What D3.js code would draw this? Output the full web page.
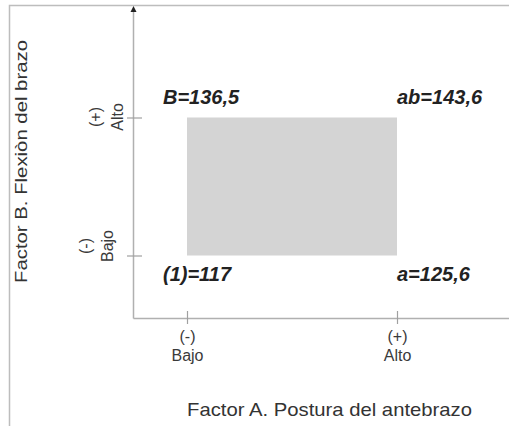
<!DOCTYPE html>
<html>
<head>
    <meta charset="utf-8">
    <script src="https://cdn.jsdelivr.net/npm/d3@7"></script>
    <title>Diseño factorial 2x2</title>
    <style>
        * {
            margin: 0;
            padding: 0;
        }

        body {
            background: #fff;
        }

        svg text {
            font-family: "Liberation Sans", Arial, sans-serif;
        }
    </style>
</head>
<body>
    <div id="chart"></div>
    <script>
        // factor levels (both factors use the same two levels)
        var levels = ["-", "+"];
        var levelNames = ["Bajo", "Alto"];

        // the four treatment combinations
        var cellNames = ["(1)", "a", "B", "ab"];
        var cellA = ["-", "+", "-", "+"];
        var cellB = ["-", "-", "+", "+"];
        var cellValues = [117, 125.6, 136.5, 143.6];

        var titleA = "Factor A. Postura del antebrazo";
        var titleB = "Factor B. Flexiòn del brazo";

        var width = 509, height = 426;

        var svg = d3.select("#chart")
            .append("svg")
            .attr("width", width)
            .attr("height", height);

        // frame around the picture (top and left only)
        svg.append("path")
            .attr("d", "M9.5," + height + "V5.5H" + width)
            .style("fill", "none")
            .style("stroke", "#bdbdbd")
            .style("stroke-width", 1.5);

        var xScale = d3.scalePoint()
            .domain(levels)
            .range([187, 397]);

        var yScale = d3.scalePoint()
            .domain(levels)
            .range([255.5, 117.5]);

        var originX = 133.5, originY = 318.5;

        // square of the design
        svg.append("rect")
            .attr("x", xScale("-"))
            .attr("y", yScale("+"))
            .attr("width", xScale("+") - xScale("-"))
            .attr("height", yScale("-") - yScale("+"))
            .style("fill", "#d4d4d4");

        // axis lines
        svg.append("line")
            .attr("x1", originX).attr("x2", width)
            .attr("y1", originY).attr("y2", originY)
            .style("stroke", "#b0b0b0")
            .style("stroke-width", 1.5);

        svg.append("line")
            .attr("x1", originX).attr("x2", originX)
            .attr("y1", originY).attr("y2", 11)
            .style("stroke", "#b0b0b0")
            .style("stroke-width", 1.5);

        svg.append("path")
            .attr("d", "M" + originX + ",6L" + (originX - 3) + ",12L" + (originX + 3) + ",12Z")
            .style("fill", "#222");

        // x ticks
        var xAxis = svg.append("g")
            .attr("transform", "translate(0,311)")
            .call(d3.axisBottom(xScale).tickSize(13).tickSizeOuter(0));
        xAxis.select(".domain").remove();
        xAxis.selectAll("line").style("stroke", "#a0a0a0").style("stroke-width", 1.2);
        xAxis.selectAll("text").remove();
        xAxis.selectAll(".tick").each(function (d, i) {
            var t = d3.select(this).append("text")
                .attr("text-anchor", "middle")
                .style("font-size", "16px")
                .style("fill", "#3a3a3a");
            t.append("tspan").attr("x", 0).attr("y", 31).text("(" + d + ")");
            t.append("tspan").attr("x", 0).attr("y", 50).text(levelNames[i]);
        });

        // y ticks
        var yAxis = svg.append("g")
            .attr("transform", "translate(142,0)")
            .call(d3.axisLeft(yScale).tickSize(15).tickSizeOuter(0));
        yAxis.select(".domain").remove();
        yAxis.selectAll("line").style("stroke", "#a0a0a0").style("stroke-width", 1.2);
        yAxis.selectAll("text").remove();
        yAxis.selectAll(".tick").each(function (d, i) {
            var shift = d == "-" ? -10 : -1;
            var base = d == "-" ? -29 : -19;
            var t = d3.select(this).append("text")
                .attr("transform", "translate(" + base + "," + shift + ") rotate(-90)")
                .attr("text-anchor", "middle")
                .style("font-size", "16px")
                .style("fill", "#3a3a3a");
            t.append("tspan").attr("x", 0).attr("y", -22).text("(" + d + ")");
            t.append("tspan").attr("x", 0).attr("y", 0).text(levelNames[i]);
        });

        // corner labels
        svg.selectAll(".cell")
            .data(cellValues)
            .enter()
            .append("text")
            .attr("x", function (d, i) { return xScale(cellA[i]) + (cellA[i] == "-" ? -24 : 0); })
            .attr("y", function (d, i) { return yScale(cellB[i]) + (cellB[i] == "-" ? 25 : -14); })
            .style("font-size", "20px")
            .style("font-weight", "bold")
            .style("font-style", "italic")
            .style("fill", "#222")
            .text(function (d, i) { return cellNames[i] + "=" + String(d).replace(".", ","); });

        // axis titles
        svg.append("text")
            .attr("x", 187)
            .attr("y", 416)
            .attr("textLength", 285)
            .attr("lengthAdjust", "spacingAndGlyphs")
            .style("font-size", "19px")
            .style("fill", "#333")
            .text(titleA);

        svg.append("text")
            .attr("transform", "translate(27,283) rotate(-90)")
            .attr("textLength", 243)
            .attr("lengthAdjust", "spacingAndGlyphs")
            .style("font-size", "17px")
            .style("fill", "#333")
            .text(titleB);
    </script>
</body>
</html>
